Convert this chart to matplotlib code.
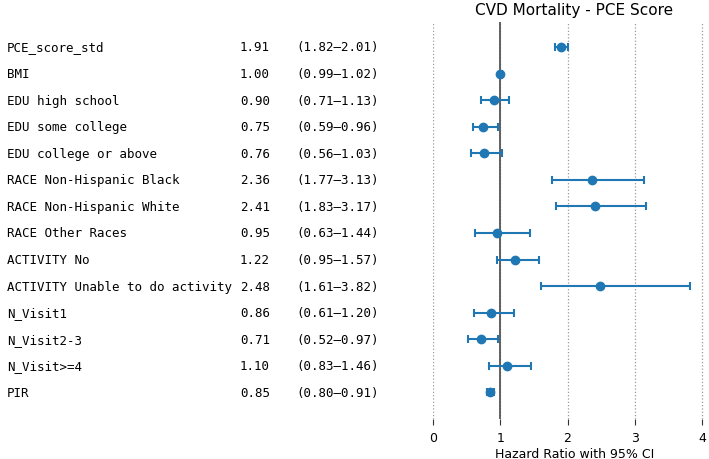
import matplotlib.pyplot as plt
import matplotlib.transforms as mtransforms

labels = ["PCE_score_std", "BMI", "EDU high school", "EDU some college",
          "EDU college or above", "RACE Non-Hispanic Black",
          "RACE Non-Hispanic White", "RACE Other Races", "ACTIVITY No",
          "ACTIVITY Unable to do activity", "N_Visit1", "N_Visit2-3",
          "N_Visit>=4", "PIR"]
hr = [1.91, 1.00, 0.90, 0.75, 0.76, 2.36, 2.41, 0.95, 1.22, 2.48, 0.86, 0.71, 1.10, 0.85]
lo = [1.82, 0.99, 0.71, 0.59, 0.56, 1.77, 1.83, 0.63, 0.95, 1.61, 0.61, 0.52, 0.83, 0.80]
hi = [2.01, 1.02, 1.13, 0.96, 1.03, 3.13, 3.17, 1.44, 1.57, 3.82, 1.20, 0.97, 1.46, 0.91]
ticks = [0, 1, 2, 3, 4]

W, H = 709, 460
fig = plt.figure(figsize=(W / 100, H / 100), dpi=100)
# axes placed in pixel terms (right edge runs past the figure, as in the original crop)
x0, x1 = 433, 715.5
y_top, y_bot = 23, 420
ax = fig.add_axes([x0 / W, 1 - y_bot / H, (x1 - x0) / W, (y_bot - y_top) / H])

n = len(labels)
ys = list(range(n))
xerr = [[h - l for h, l in zip(hr, lo)], [u - h for h, u in zip(hr, hi)]]
ax.errorbar(hr, ys, xerr=xerr, fmt='o', color='#1f77b4', ecolor='#1f77b4',
            markersize=6, capsize=3, elinewidth=1.5, capthick=1.5, zorder=3)
ax.axvline(1, color='#555555', linewidth=1.3, zorder=2)

ax.set_xlim(0, 4.2)
ax.set_ylim(14.0, -0.94)
ax.set_xticks(ticks)
ax.set_yticks([])
ax.grid(axis='x', linestyle=':', color='#999999', linewidth=0.9)
for s in ax.spines.values():
    s.set_visible(False)
ax.tick_params(axis='x', labelsize=9, length=4, pad=5, color='#333333')
ax.set_xlabel("Hazard Ratio with 95% CI", fontsize=9, labelpad=1.5)
ax.set_title("CVD Mortality - PCE Score", fontsize=11, pad=6)

trans = mtransforms.blended_transform_factory(fig.transFigure, ax.transData)
for y, lab, h, l, u in zip(ys, labels, hr, lo, hi):
    ax.text(7 / W, y, lab, transform=trans, family='DejaVu Sans Mono',
            fontsize=9, va='center', ha='left')
    ax.text(240 / W, y, f"{h:.2f}", transform=trans, family='DejaVu Sans Mono',
            fontsize=9, va='center', ha='left')
    ax.text(296 / W, y, f"({l:.2f}\u2013{u:.2f})", transform=trans,
            family='DejaVu Sans Mono', fontsize=9, va='center', ha='left')

fig.savefig("out.png", dpi=100)
